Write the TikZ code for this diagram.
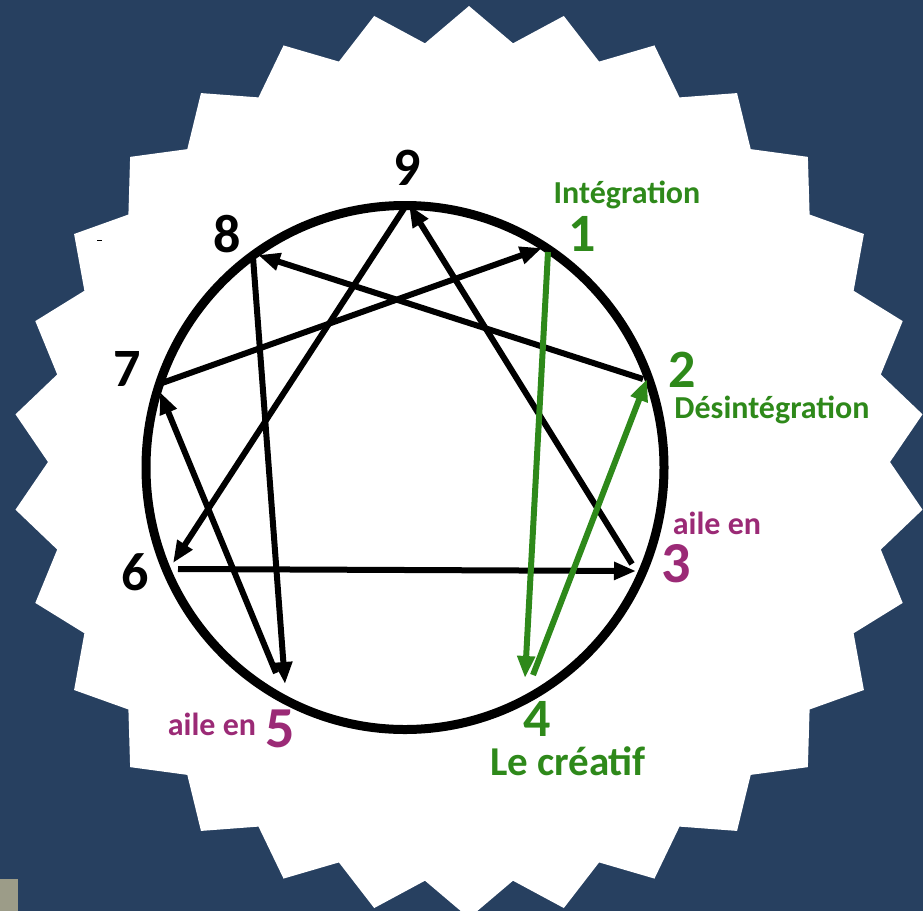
\documentclass[tikz,border=0pt]{standalone}
\usepackage{fontspec}
\setmainfont{Carlito}
\usetikzlibrary{arrows.meta}
\definecolor{navy}{RGB}{39,64,96}
\definecolor{enngreen}{RGB}{46,137,26}
\definecolor{ennpurple}{RGB}{155,42,118}
\definecolor{cornergray}{RGB}{156,156,136}

\begin{document}
\begin{tikzpicture}[x=1pt,y=-1pt,
  conn/.style={line width=6pt,-{Triangle[length=22pt,width=17pt]}},
  blk/.style={conn,black},
  grn/.style={conn,enngreen},
  num/.style={font=\fontsize{54}{54}\selectfont\bfseries,anchor=base,inner sep=0pt},
  bignum/.style={num,font=\fontsize{58}{58}\selectfont\bfseries},
  lbl/.style={font=\fontsize{32}{32}\selectfont\bfseries,anchor=base,inner sep=0pt}]
% background and the white burst
\useasboundingbox (0,0) rectangle (923,911);
\fill[navy] (0,0) rectangle (923,911);
\begin{scope}
  \clip (0,0) rectangle (923,911);
  \fill[white,shift={(469,462)}] (90:456)
    \foreach \a in {0,12,...,348} { -- ({90+\a+6}:421) -- ({90+\a+12}:456) } -- cycle;
\end{scope}
\fill[cornergray] (0,879) rectangle (18,911);
\draw[line width=1pt] (97,240.5) -- (102,240.5);
% the circle
\draw[line width=9pt] (405,467.5) ellipse[x radius=259,y radius=262];
% points on the circle (out = start of a line, in = arrow tip)
\coordinate (out9) at (405,207); \coordinate (in9) at (409,205);
\coordinate (out8) at (253,257); \coordinate (in8) at (258,255);
\coordinate (out7) at (162,383); \coordinate (in7) at (160,392);
\coordinate (out6) at (178,569); \coordinate (in6) at (173,563);
\coordinate (out5) at (276,673); \coordinate (in5) at (285,684);
\coordinate (out4) at (533,675); \coordinate (in4) at (525,678);
\coordinate (out3) at (632,564); \coordinate (in3) at (636,571);
\coordinate (out2) at (643,379); \coordinate (in2) at (647,379);
\coordinate (out1) at (548,252); \coordinate (in1) at (542,248);
% black lines
\draw[blk] (out2) -- (in8);
\draw[blk] (out8) -- (in5);
\draw[blk] (out5) -- (in7);
\draw[blk] (out7) -- (in1);
\draw[blk] (out9) -- (in6);
\draw[blk] (out6) -- (in3);
\draw[blk] (out3) -- (in9);
% green lines
\draw[grn] (out1) -- (in4);
\draw[grn] (out4) -- (in2);
% numbers
\node[num] (n9) at (407,185) {9};
\node[num] (n8) at (227,252) {8};
\node[num] (n7) at (127,386) {7};
\node[num] (n6) at (135,590) {6};
\node[num,enngreen] (n1) at (582,251) {1};
\node[num,enngreen] (n2) at (682,387) {2};
\node[num,enngreen] (n4) at (537,736) {4};
\node[bignum,ennpurple] (n3) at (676,582) {3};
\node[bignum,ennpurple] (n5) at (280,747) {5};
% labels
\node[lbl,enngreen] (integ) at (627,203) {Intégration};
\node[lbl,enngreen] (desinteg) at (772,418) {Désintégration};
\node[lbl,ennpurple] (aile3) at (717,534) {aile en};
\node[lbl,ennpurple] (aile5) at (212,735) {aile en};
\node[lbl,enngreen,font=\fontsize{41}{41}\selectfont\bfseries] (creatif) at (568,775) {Le créatif};
\end{tikzpicture}
\end{document}
